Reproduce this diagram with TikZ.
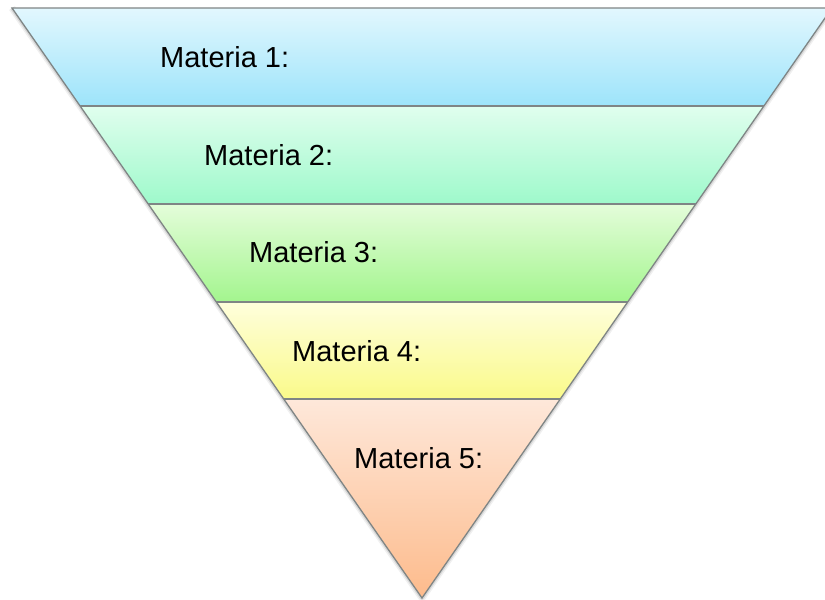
\documentclass[tikz,border=0pt]{standalone}
\usepackage{fontspec}
\setmainfont{Liberation Sans}
\begin{document}
\begin{tikzpicture}[x=1pt,y=-1pt,
  band/.style={draw=edgegray, line width=1.3pt, line join=miter},
  lbl/.style={anchor=west, inner sep=0pt, font=\fontsize{29}{35}\selectfont, text=black}]
\definecolor{edgegray}{HTML}{7F8585}
\definecolor{b1t}{HTML}{E2F7FE}\definecolor{b1b}{HTML}{9DE4FA}
\definecolor{b2t}{HTML}{E0FEEE}\definecolor{b2b}{HTML}{9EF9CB}
\definecolor{b3t}{HTML}{E4FDDA}\definecolor{b3b}{HTML}{A3F58E}
\definecolor{b4t}{HTML}{FEFEDC}\definecolor{b4b}{HTML}{FAFA8A}
\definecolor{b5t}{HTML}{FEE8DA}\definecolor{b5b}{HTML}{FDBB8C}
\useasboundingbox (0,0) rectangle (825,600);
\clip (0,0) rectangle (825,600);
\fill[white] (0,0) rectangle (825,600);
% soft shadow
\draw[black, opacity=0.06, line width=7pt, line join=round] (12,8) -- (422,598) -- (832,8);
\draw[black, opacity=0.10, line width=4pt, line join=round] (12,8) -- (422,598) -- (832,8);
% bands
\shade[top color=b1t, bottom color=b1b] (12,8) -- (832,8) -- (763.9,106) -- (80.1,106) -- cycle;
\shade[top color=b2t, bottom color=b2b] (80.1,106) -- (763.9,106) -- (695.8,204) -- (148.2,204) -- cycle;
\shade[top color=b3t, bottom color=b3b] (148.2,204) -- (695.8,204) -- (627.7,302) -- (216.3,302) -- cycle;
\shade[top color=b4t, bottom color=b4b] (216.3,302) -- (627.7,302) -- (560.3,399) -- (283.7,399) -- cycle;
\shade[top color=b5t, bottom color=b5b] (283.7,399) -- (560.3,399) -- (422,598) -- cycle;
% outlines
\draw[band] (12,8) -- (832,8) -- (422,598) -- cycle;
\draw[band] (80.1,106) -- (763.9,106);
\draw[band] (148.2,204) -- (695.8,204);
\draw[band] (216.3,302) -- (627.7,302);
\draw[band] (283.7,399) -- (560.3,399);
% labels
\node[lbl] (m1) at (160,57) {Materia 1:};
\node[lbl] (m2) at (204,155) {Materia 2:};
\node[lbl] (m3) at (249,252) {Materia 3:};
\node[lbl] (m4) at (292,351) {Materia 4:};
\node[lbl] (m5) at (354,458) {Materia 5:};
\end{tikzpicture}
\end{document}
